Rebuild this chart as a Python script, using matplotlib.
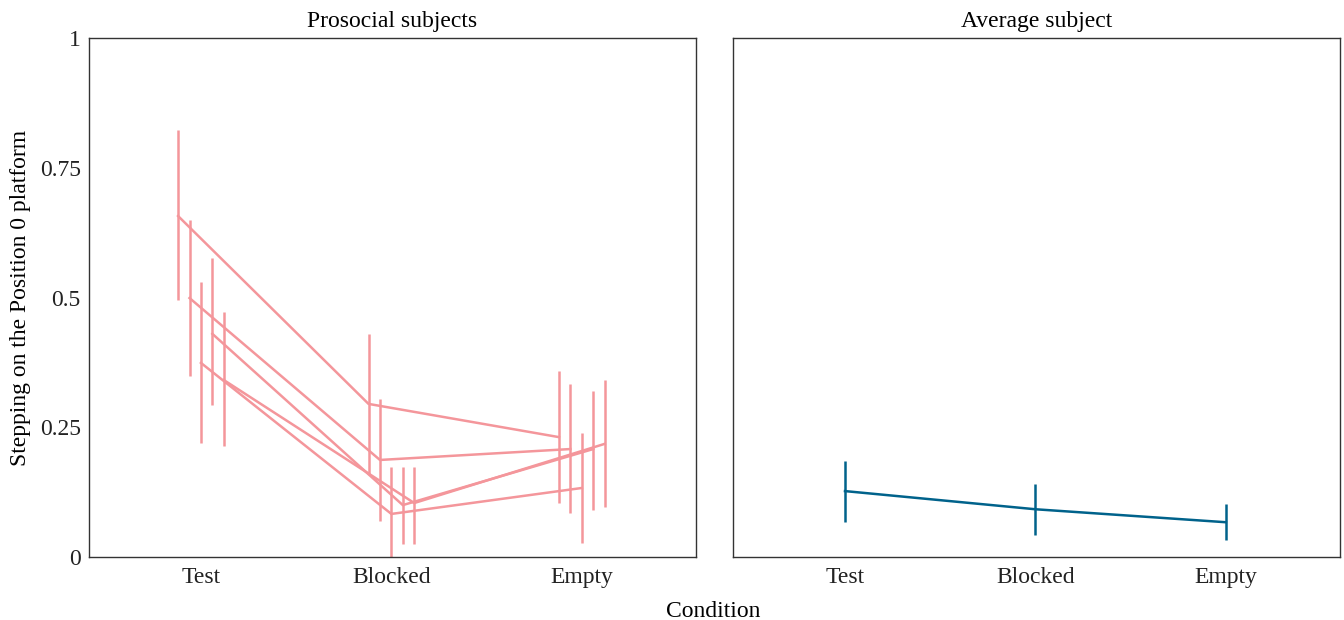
import matplotlib
matplotlib.use("Agg")
import matplotlib.pyplot as plt
import numpy as np

# condiciones y datos
condiciones = ["Test", "Blocked", "Empty"]

# sujetos prosociales: media, limite superior, limite inferior
sujetos_media = [
    [0.657, 0.295, 0.231],
    [0.499, 0.187, 0.208],
    [0.374, 0.083, 0.133],
    [0.430, 0.100, 0.208],
    [0.341, 0.104, 0.218],
]
sujetos_sup = [
    [0.823, 0.430, 0.358],
    [0.649, 0.304, 0.333],
    [0.530, 0.174, 0.239],
    [0.576, 0.174, 0.320],
    [0.472, 0.174, 0.341],
]
sujetos_inf = [
    [0.495, 0.160, 0.104],
    [0.349, 0.070, 0.085],
    [0.220, 0.000, 0.027],
    [0.293, 0.025, 0.090],
    [0.214, 0.025, 0.096],
]

# sujeto promedio
prom_media = [0.127, 0.092, 0.067]
prom_sup = [0.185, 0.141, 0.102]
prom_inf = [0.067, 0.042, 0.033]

rosa = "#f4969b"
azul = "#00628b"
tam = 17

plt.rcParams["font.family"] = ["Liberation Serif", "DejaVu Serif"]
plt.rcParams["font.size"] = tam

fig = plt.figure(figsize=(13.44, 6.2), dpi=100)
ax1 = fig.add_axes([0.0662, 0.1016, 0.4517, 0.8371])
ax2 = fig.add_axes([0.5454, 0.1016, 0.4517, 0.8371])

x = np.arange(1, 4)
desp = 0.06

for k in range(len(sujetos_media)):
    xs = x + (k - 2) * desp
    m = np.array(sujetos_media[k])
    sup = np.array(sujetos_sup[k])
    inf = np.array(sujetos_inf[k])
    ax1.errorbar(xs, m, yerr=[m - inf, sup - m], color=rosa, lw=1.8,
                 elinewidth=1.8, capsize=0)

m = np.array(prom_media)
ax2.errorbar(x, m, yerr=[m - np.array(prom_inf), np.array(prom_sup) - m],
             color=azul, lw=1.8, elinewidth=1.8, capsize=0)

for ax in (ax1, ax2):
    ax.set_xlim(0.412, 3.6)
    ax.set_ylim(0, 1)
    ax.set_xticks(x)
    ax.set_xticklabels(condiciones)
    ax.tick_params(length=0, pad=7, labelsize=tam, colors="#222222")
    for s in ax.spines.values():
        s.set_color("#333333")
        s.set_linewidth(1.0)

ax1.set_yticks([0, 0.25, 0.5, 0.75, 1])
ax1.set_yticklabels(["0", "0.25", "0.5", "0.75", "1"])
ax1.tick_params(axis="y", pad=6)
ax2.set_yticks([])

ax1.set_title("Prosocial subjects", fontsize=tam, pad=8)
ax2.set_title("Average subject", fontsize=tam, pad=8)
ax1.set_ylabel("Stepping on the Position 0 platform", fontsize=tam, labelpad=6)
fig.text(0.531, 0.005, "Condition", ha="center", fontsize=tam)

fig.savefig("out.png", dpi=100)
